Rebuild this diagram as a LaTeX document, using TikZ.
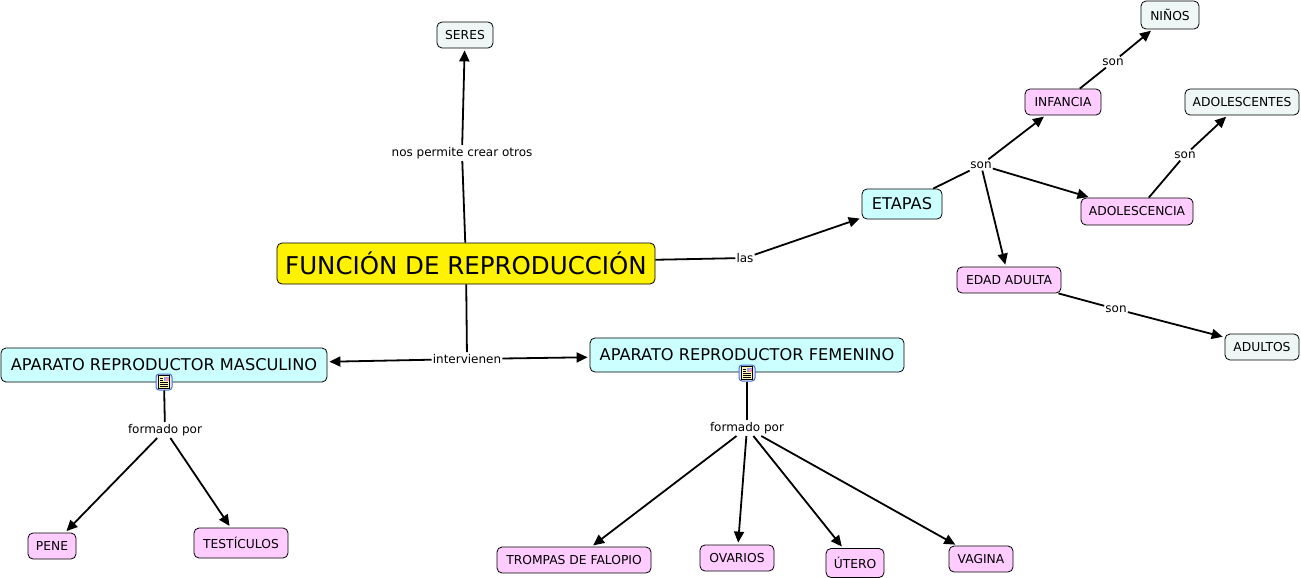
\documentclass[tikz,border=0pt]{standalone}
\usepackage{fontspec}
\setmainfont{DejaVu Sans}
\usetikzlibrary{arrows.meta}
\definecolor{mainblue}{HTML}{CCFFFF}
\definecolor{partpink}{HTML}{FFCCFF}
\definecolor{leafgray}{HTML}{EEF6F6}
\definecolor{docblue}{HTML}{3F74C8}
\newcommand{\docicon}[2]{%
  \begin{scope}[shift={(#2)}]
    \node[docbox] (#1) at (0,0) {};
    \draw[black, fill=yellow!30, line width=.7pt] (-5.5,-6.5) rectangle (5.5,6.5);
    \fill[blue!40] (0,-5.5) rectangle (4.5,-1);
    \fill[red!40] (1.5,-4) rectangle (4.5,-1);
    \foreach \ly in {-4,-2}
      \draw[black, line width=.6pt] (-4,\ly) -- (-1,\ly);
    \foreach \ly in {.5,2.5,4.5}
      \draw[black, line width=.6pt] (-4,\ly) -- (4,\ly);
  \end{scope}}
\begin{document}
\begin{tikzpicture}[x=1pt, y=-1pt,
    box/.style={rectangle, draw=black, line width=.8pt, rounded corners=5pt,
                inner sep=0pt, align=center, text=black},
    top/.style={box, fill=yellow, minimum width=378pt, minimum height=41pt,
                font=\fontsize{24.5}{30}\selectfont},
    main/.style={box, fill=mainblue, minimum height=34pt,
                font=\fontsize{16.2}{20}\selectfont},
    part/.style={box, fill=partpink, minimum height=26pt,
                font=\fontsize{12.3}{14}\selectfont},
    leaf/.style={box, fill=leafgray, minimum height=26pt,
                font=\fontsize{12.3}{14}\selectfont},
    lab/.style={inner xsep=1pt, inner ysep=2pt, text=black,
                font=\fontsize{12}{14}\selectfont},
    docbox/.style={rectangle, draw=docblue, line width=1pt, fill=blue!8,
                rounded corners=3pt, minimum size=16pt, inner sep=0pt},
    line/.style={black, line width=1.8pt},
    arr/.style={line, -{Triangle[length=11pt,width=10pt]}, shorten >=2pt}]
  \useasboundingbox (0,0) rectangle (1301,578);

  \node[top] (funcion) at (466,263.5) {FUNCIÓN DE REPRODUCCIÓN};
  \node[leaf, minimum width=56pt] (seres) at (465,35) {SERES};
  \node[main, minimum width=80pt, minimum height=30pt] (etapas) at (902,204) {ETAPAS};
  \node[main, minimum width=326pt] (masculino) at (164,365) {APARATO REPRODUCTOR MASCULINO};
  \node[main, minimum width=314pt] (femenino) at (747,355) {APARATO REPRODUCTOR FEMENINO};

  \node[part, minimum width=76pt] (infancia) at (1063,102) {INFANCIA};
  \node[part, minimum width=112pt, minimum height=27pt] (adolescencia) at (1137,211.5) {ADOLESCENCIA};
  \node[part, minimum width=104pt] (adulta) at (1009,280) {EDAD ADULTA};
  \node[leaf, minimum width=58pt, minimum height=28pt] (ninos) at (1170,15) {NIÑOS};
  \node[leaf, minimum width=114pt] (adolescentes) at (1242,102) {ADOLESCENTES};
  \node[leaf, minimum width=74pt] (adultos) at (1262,347) {ADULTOS};

  \node[part, minimum width=48pt] (pene) at (52,546) {PENE};
  \node[part, minimum width=94pt, minimum height=30pt] (testiculos) at (241,543) {TESTÍCULOS};
  \node[part, minimum width=154pt] (trompas) at (574,560) {TROMPAS DE FALOPIO};
  \node[part, minimum width=74pt] (ovarios) at (737,558) {OVARIOS};
  \node[part, minimum width=58pt, minimum height=29pt] (utero) at (855,563) {ÚTERO};
  \node[part, minimum width=64pt] (vagina) at (981,559) {VAGINA};

  \docicon{docm}{164,382}
  \docicon{docf}{747,373}

  \node[lab] (crear) at (462,153) {nos permite crear otros};
  \node[lab] (las) at (745,258) {las};
  \node[lab] (son) at (981,165) {son};
  \node[lab] (soni) at (1113,62) {son};
  \node[lab] (sona) at (1185,155) {son};
  \node[lab] (sone) at (1116,309) {son};
  \node[lab] (interv) at (467,359) {intervienen};
  \node[lab] (formm) at (165,430) {formado por};
  \node[lab] (formf) at (747,428) {formado por};

  \draw[line] (funcion) -- (crear);
  \draw[arr] (crear) -- (seres);
  \draw[line] (funcion) -- (las);
  \draw[arr] (las) -- (etapas);
  \draw[line] (funcion) -- (interv);
  \draw[arr] (interv) -- (masculino);
  \draw[arr] (interv) -- (femenino);

  \draw[line] (etapas) -- (son);
  \draw[arr] (son) -- (infancia);
  \draw[arr] (son) -- (adolescencia);
  \draw[arr] (son) -- (adulta);
  \draw[line] (infancia) -- (soni);
  \draw[arr] (soni) -- (ninos);
  \draw[line] (adolescencia) -- (sona);
  \draw[arr] (sona) -- (adolescentes);
  \draw[line] (adulta) -- (sone);
  \draw[arr] (sone) -- (adultos);

  \draw[line] (docm) -- (formm);
  \draw[arr] (formm) -- (pene);
  \draw[arr] (formm) -- (testiculos);
  \draw[line] (docf) -- (formf);
  \draw[arr] (formf) -- (trompas);
  \draw[arr] (formf) -- (ovarios);
  \draw[arr] (formf) -- (utero);
  \draw[arr] (formf) -- (vagina);
\end{tikzpicture}
\end{document}
